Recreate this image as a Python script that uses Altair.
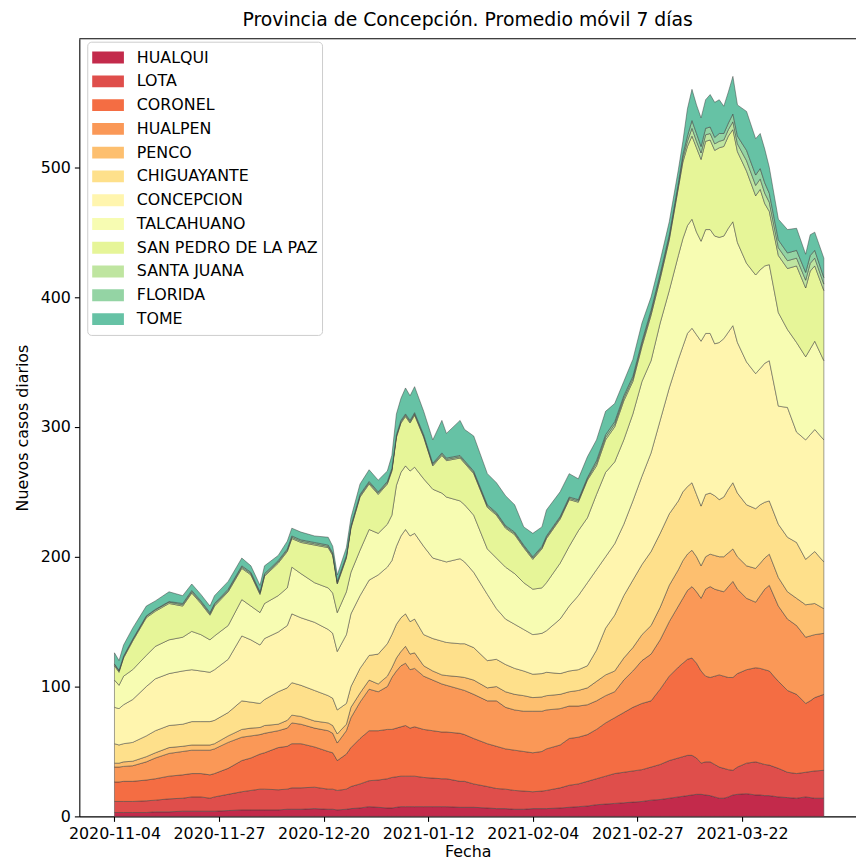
import altair as alt
import pandas as pd

# ---------------- data ----------------
serie_nombres = ["HUALQUI", "LOTA", "CORONEL", "HUALPEN", "PENCO", "CHIGUAYANTE",
                 "CONCEPCION", "TALCAHUANO", "SAN PEDRO DE LA PAZ", "SANTA JUANA",
                 "FLORIDA", "TOME"]
colores = ["#c32a4b", "#df4e4b", "#f46d43", "#fa9857", "#fdbf6f", "#fee08b",
           "#fff5ae", "#f7fcb2", "#e6f598", "#bfe5a0", "#94d4a4", "#66c2a5"]

# days after 2020-11-04
dias = [0, 1, 2, 4, 7, 9, 12, 15, 17, 19,
        21, 22, 25, 28, 30, 32, 33, 36, 38, 39,
        41, 44, 47, 48, 49, 51, 52, 54, 56, 58,
        60, 61, 62, 63, 64, 65, 66, 68, 70, 72,
        73, 76, 77, 79, 82, 84, 86, 88, 90, 92,
        94, 95, 98, 100, 102, 104, 106, 108, 110, 112,
        114, 116, 118, 120, 122, 124, 125, 126, 127, 128,
        129, 130, 131, 132, 133, 134, 135, 136, 137, 139,
        141, 142, 143, 144, 146, 148, 150, 152, 153, 154,
        156]

# upper edge of each stacked band (cumulative, as drawn)
tope_hualqui = [3, 3, 3, 3, 3, 3.5, 3.5, 4, 4, 4,
                4, 4, 4.5, 5, 5, 5, 5, 5, 5.5, 5.5,
                5.5, 6, 5.5, 5.5, 5, 5.5, 6, 6.5, 7.5, 7,
                6.5, 6.5, 7, 7.5, 7.5, 7.5, 7.5, 7.5, 7.5, 7.5,
                7.5, 7, 7, 7, 6.5, 6, 6, 5.5, 5.5, 6,
                6, 6, 6.5, 7, 7.5, 8, 9, 9.5, 10, 10.5,
                11, 11.5, 12.5, 13, 14, 15, 15.5, 16, 16.5, 17,
                17, 16.5, 16, 15, 14, 14, 15, 16.5, 17, 17.5,
                16.5, 16.5, 16, 16, 15, 14.5, 14, 15, 14.5, 14,
                14]
tope_lota = [11.5, 11.5, 11.5, 11.5, 12, 12.5, 13.5, 14, 15, 15,
             14, 15, 17, 19, 20, 21, 21, 20.5, 21, 22,
             22, 22.5, 21, 21, 20, 21, 23, 25, 27.5, 28,
             29, 30, 30.5, 31, 31, 31, 31, 30, 29.5, 29,
             29, 27, 27, 25, 23, 21.5, 21, 20, 19.5, 19,
             19.5, 20, 22, 24, 25, 27, 29, 31, 33, 34,
             35, 36, 38, 40, 43, 45, 46, 47, 47, 45,
             41, 42, 42, 40, 38, 37, 36, 35.5, 38, 41,
             42, 41, 40, 39.5, 37, 34, 33, 34, 34.5, 35,
             35.5]
tope_coronel = [26.5, 26.5, 27, 27, 28, 29, 31, 32, 33, 33,
                32, 33, 37, 43, 45, 48, 49, 53, 54, 56,
                56, 53.5, 50, 49, 43, 48, 53, 60, 66, 66,
                67, 67, 68, 69, 70, 68, 69, 67, 66, 65,
                65, 64, 63, 60, 56, 54, 52, 51, 50, 49,
                50, 52, 55, 60, 61, 63, 67, 72, 76, 80,
                84, 87, 89, 98, 108, 115, 118, 121, 122, 118,
                112, 108, 107, 108, 109, 108, 107, 107, 110, 113,
                114.5, 114, 113, 112, 104, 97, 94, 87, 89, 91.5,
                94]
tope_hualpen = [38, 38, 38.5, 39, 42, 45, 48.5, 50, 51, 51,
                51, 52, 57, 61, 62, 63, 64, 66, 68, 72,
                71, 68, 66, 64, 56.5, 66, 76, 88, 98, 96,
                100, 107, 112, 116, 118, 113, 114, 108, 105, 102,
                101, 98, 97, 94, 89, 89, 84, 82, 81, 81,
                81, 82, 83, 85, 85, 86, 89, 93, 96, 105,
                112, 120, 125, 136, 150, 162, 168, 174, 177, 173,
                168, 175, 177, 175, 174, 173, 177, 181, 175, 168,
                165, 170, 175, 178, 162, 152, 147, 138, 139, 140,
                141]
tope_penco = [41, 41, 42, 42.5, 46, 49, 53, 54, 55, 55,
              55, 56, 62, 67, 68, 68.5, 70, 71, 74, 78,
              77, 73.5, 72, 70, 63.5, 71, 84, 95, 105, 102,
              108, 114.5, 122, 127, 131, 125, 126, 116, 112, 109,
              108.5, 107.5, 107, 105, 99, 100, 96, 94, 93, 91.5,
              92, 93, 94, 96, 97, 99, 104, 109, 112, 122,
              130, 140, 147, 161, 178, 190, 197, 202, 205, 200,
              193, 200, 202, 201, 200, 200, 203, 206, 200, 193,
              191, 195, 199, 202, 184, 173, 168, 163, 163.5, 164,
              160]
tope_chiguayante = [56, 55, 56, 57, 62, 66, 70, 71, 73, 73,
                    73, 74, 80, 89, 88, 87, 90, 96, 99, 103,
                    101, 97, 93, 91, 82, 87, 100, 114, 124, 125,
                    133, 140, 148, 153, 156, 150, 152, 140, 137, 135,
                    134, 133, 133, 130, 120, 121, 117, 114, 112, 109.5,
                    110, 111, 110, 112, 113, 116, 128, 145, 155, 170,
                    182, 194, 204, 218, 233, 243, 250, 254, 257, 248,
                    239, 248, 249, 247, 244, 246, 252, 257, 249, 240,
                    237, 240, 242, 243, 225, 215, 211, 198, 201, 204,
                    196]
tope_concepcion = [84, 83, 86, 90, 100, 106, 110, 112, 113, 112,
                   111, 113, 121, 139, 136, 132, 137, 142, 147, 156,
                   153, 149.5, 144, 141, 127, 140, 156, 170, 182, 186,
                   192, 197, 208, 216, 221, 216, 218, 208, 199, 197,
                   196, 198.5, 196, 188, 171, 160, 152, 148, 144, 140,
                   141, 143, 152, 162, 170, 180, 190, 200, 210, 225,
                   243, 262, 280, 305, 330, 352, 362, 372, 376, 371,
                   366, 372, 372, 364, 365, 368, 373, 378, 365, 350,
                   341, 345, 349, 351, 316, 315, 296, 290, 294, 298,
                   290]
tope_talcahuano = [105, 101, 108, 113, 124, 131, 136, 138, 142.5, 140,
                   136, 139, 147, 167, 162, 157, 164, 170, 176, 192,
                   187, 180, 176, 172, 157, 173, 188, 205, 221, 218,
                   225, 232, 255, 265, 270, 266, 269, 260, 252, 249,
                   246, 243, 240, 232, 206, 199, 192, 187, 180, 175,
                   176, 180, 195, 208, 220, 230, 248, 265, 273, 290,
                   310, 335, 351, 380, 405, 432, 445, 455, 460, 450,
                   443, 452, 452, 447, 446, 447, 453, 458, 442, 426,
                   417, 421, 424, 425, 388, 375, 365, 354, 360, 366,
                   351]
tope_san_pedro = [116, 111, 122, 135, 153, 158, 164, 162, 172, 164,
                  155, 162, 173, 191, 186, 171, 185, 195, 204, 214,
                  211, 209, 207, 201, 179, 199, 222, 246, 256, 248,
                  256, 266, 292, 303, 308, 303, 309, 292, 270, 278,
                  274, 276, 272, 264, 238, 232, 222, 217, 207, 198,
                  206, 214, 229, 244, 242, 259, 270, 290, 300, 320,
                  335, 362, 386, 414, 444, 484, 504, 516, 524, 515,
                  506, 520, 521, 513, 515, 516, 524, 529, 512, 497,
                  478, 483, 472, 466, 432, 422, 424, 407, 420, 424,
                  405]
tope_santa_juana = [117, 112, 123, 136, 154, 159, 165, 163, 173, 165,
                    156, 163, 174, 192, 187, 172, 186, 196, 205, 215,
                    212, 210, 208, 202, 180, 200, 223, 247, 257, 249,
                    257, 267, 293, 304, 309, 304, 310, 293, 271, 279,
                    275, 277, 273, 265, 239, 233, 223, 218, 208, 199,
                    207, 215, 230, 245, 243, 260, 272, 292, 302, 322,
                    337, 364, 388, 416, 446, 486, 507, 520, 530, 520,
                    511, 525, 526, 518, 520, 521, 529, 535, 518, 505,
                    486, 491, 480, 473, 438, 428, 430, 413, 426, 430,
                    410]
tope_florida = [117.5, 112.5, 123.5, 136.5, 154.5, 159.5, 165.5, 164, 174, 166,
                157, 164, 175, 193, 188, 173, 187, 197, 206, 216,
                213, 211, 209, 203, 181, 201, 224, 248, 258, 250,
                258, 268, 294, 305, 310, 305, 311, 294, 272, 280,
                276, 278, 274, 266, 240, 234, 224, 219, 209, 200,
                208, 216, 231, 246, 244, 261, 274, 294, 304, 324,
                339, 366, 390, 418, 448, 488, 510, 524, 536, 526,
                516, 530, 531, 523, 526, 526, 534, 541, 524, 513,
                494, 499, 488, 480, 444, 434, 436, 419, 432, 436,
                415]
tope_tome = [126, 120, 132, 145, 162, 166, 173, 170, 179, 171,
             162, 170, 181, 199, 193, 178, 193, 201, 212, 222,
             219, 216, 215, 208, 186, 207, 230, 256, 267, 259,
             266, 278, 310, 322, 330, 324, 331, 312, 290, 305,
             295, 305, 298, 293, 264, 257, 247, 240, 223, 218,
             223, 236, 250, 264, 260, 277, 290, 312, 318, 335,
             352, 380, 400, 428, 458, 498, 520, 545, 560, 548,
             538, 552, 556, 550, 552, 547, 558, 570, 548, 543,
             522, 526, 514, 500, 460, 452, 453, 433, 448, 450,
             430]

etiquetas_x = ["2020-11-04", "2020-11-27", "2020-12-20", "2021-01-12",
               "2021-02-04", "2021-02-27", "2021-03-22"]
valores_y = [0, 100, 200, 300, 400, 500]

# ---------------- table for the library ----------------
topes = [tope_hualqui, tope_lota, tope_coronel, tope_hualpen, tope_penco,
         tope_chiguayante, tope_concepcion, tope_talcahuano, tope_san_pedro,
         tope_santa_juana, tope_florida, tope_tome]

inicio = pd.Timestamp("2020-11-04", tz="UTC")
fechas = [(inicio + pd.Timedelta(days=d)).strftime("%Y-%m-%d") for d in dias]

filas = []
for i, nombre in enumerate(serie_nombres):
    for j, f in enumerate(fechas):
        filas.append({
            "fecha": f,
            "serie": nombre,
            "tope": topes[i][j],
            "base": topes[i - 1][j] if i > 0 else 0,
        })
df = pd.DataFrame(filas)


def ms(ts):
    return int(ts.timestamp() * 1000)


ticks_x = [ms(pd.Timestamp(e, tz="UTC")) for e in etiquetas_x]
dominio_x = [ms(inicio + pd.Timedelta(days=-7.73)), ms(inicio + pd.Timedelta(days=163.07))]

W, H = 784, 785
FONT = "DejaVu Sans"

areas = alt.Chart(df).mark_area(
    stroke="#3a3a3a", strokeWidth=0.6, strokeOpacity=0.8, strokeJoin="round"
).encode(
    x=alt.X("fecha:T", title="Fecha",
            scale=alt.Scale(type="utc", domain=dominio_x),
            axis=alt.Axis(values=ticks_x,
                          labelExpr="utcFormat(datum.value, '%Y-%m-%d')",
                          labelFlush=False, labelOverlap=False,
                          titleY=40, titleBaseline="alphabetic")),
    y=alt.Y("tope:Q", stack=None, title="Nuevos casos diarios",
            scale=alt.Scale(domain=[0, 599], nice=False),
            axis=alt.Axis(values=valores_y, titleX=-52, titleBaseline="alphabetic")),
    y2="base:Q",
    color=alt.Color("serie:N",
                    scale=alt.Scale(domain=serie_nombres, range=colores),
                    legend=alt.Legend(title=None, orient="none", legendX=8, legendY=3,
                                      fillColor="white", strokeColor="#cccccc",
                                      cornerRadius=4, padding=4,
                                      labelFont=FONT, labelFontSize=16, labelColor="black",
                                      labelOffset=13, labelLimit=400,
                                      symbolType="M-1,-0.375H1V0.375H-1Z",
                                      symbolSize=1024, symbolStrokeWidth=0,
                                      symbolOpacity=1, symbolOffset=1,
                                      clipHeight=24, rowPadding=0)),
)

spine_top = alt.Chart(pd.DataFrame({"k": [0]})).mark_rule(
    color="black", strokeWidth=1.1
).encode(x=alt.value(0), x2=alt.value(W), y=alt.value(0))

chart = alt.layer(areas, spine_top).properties(
    width=W, height=H,
    title="Provincia de Concepción. Promedio móvil 7 días",
    padding={"left": 72, "top": 27, "right": 0, "bottom": 40},
    autosize=alt.AutoSizeParams(type="none"),
).configure_view(
    strokeWidth=0
).configure_axis(
    domainColor="black", domainWidth=1.1, tickColor="black", tickWidth=1.1,
    tickSize=5, labelColor="black", labelFont=FONT, labelFontSize=16,
    titleFont=FONT, titleFontSize=16, titleFontWeight="normal", titleColor="black",
    grid=False, labelPadding=4,
).configure_title(
    font=FONT, fontSize=19, fontWeight="normal", color="black",
    anchor="middle", frame="group", baseline="alphabetic", offset=8,
)

chart.save("out.html", embed_options={"renderer": "svg", "actions": False})
